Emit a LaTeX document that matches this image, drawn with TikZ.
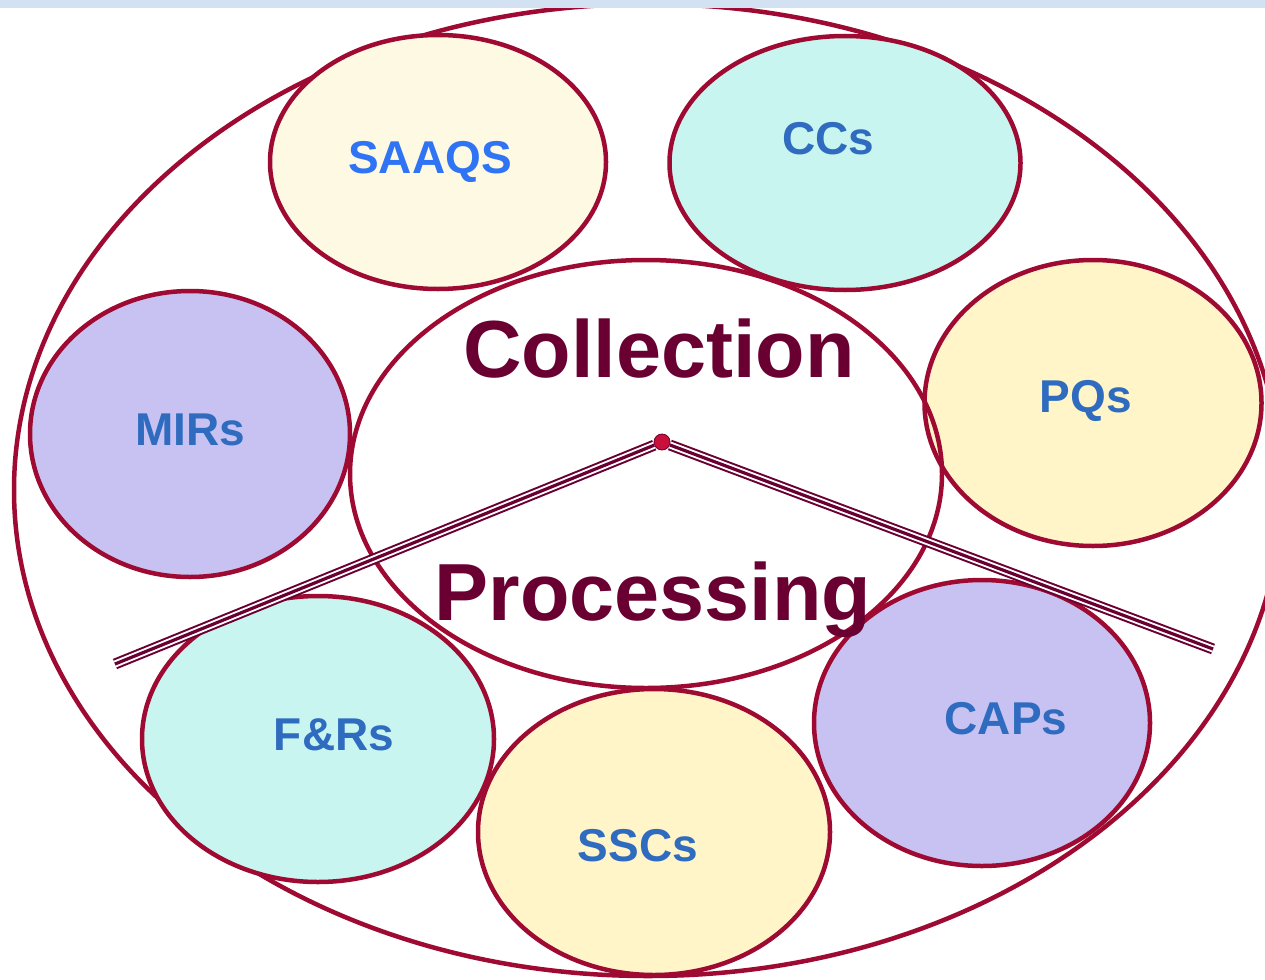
\documentclass[tikz,border=0pt]{standalone}
\usepackage{fontspec}
\setmainfont{Liberation Sans}
\usetikzlibrary{shapes.geometric}
\definecolor{outl}{HTML}{9E0A32}
\definecolor{roofc}{HTML}{6A0032}
\definecolor{titlec}{HTML}{6A0032}
\definecolor{bar}{HTML}{D3E2F3}
\definecolor{cream}{HTML}{FEF9E3}
\definecolor{cyanf}{HTML}{C9F5F0}
\definecolor{lav}{HTML}{C8C2F2}
\definecolor{yel}{HTML}{FFF5C8}
\definecolor{labc}{HTML}{2F6CC0}
\definecolor{brightb}{HTML}{2F74F5}
\definecolor{dotc}{HTML}{C8103A}
\tikzset{
  bubble/.style={ellipse, draw=outl, line width=4.5pt, inner sep=0pt},
  lab/.style={anchor=base, text=labc, font=\fontsize{46}{50}\selectfont\bfseries},
  ttl/.style={anchor=base, text=titlec, font=\fontsize{81}{90}\selectfont\bfseries},
  roof/.style={draw=roofc, line width=11pt, postaction={draw=white, line width=7pt}, postaction={draw=roofc, line width=3.2pt}}
}
\begin{document}
\begin{tikzpicture}[x=1pt,y=-1pt]
\useasboundingbox (0,0) rectangle (1265,979);
\clip (0,0) rectangle (1265,979);
\fill[white] (0,0) rectangle (1265,979);
\node[bubble, minimum width=1268pt, minimum height=972pt] (outer) at (648,490) {};
\fill[bar] (0,0) rectangle (1265,8);
% small ellipses
\node[bubble, fill=cream, minimum width=336pt, minimum height=254pt] (saaqs) at (438,162) {};
\node[bubble, fill=cyanf, minimum width=351pt, minimum height=254pt] (ccs) at (845,163) {};
\node[bubble, fill=lav, minimum width=320pt, minimum height=286pt] (mirs) at (190,434) {};
\node[bubble, fill=yel, minimum width=337pt, minimum height=286pt] (pqs) at (1093,403) {};
\node[bubble, fill=cyanf, minimum width=352pt, minimum height=286pt] (frs) at (318,739) {};
\node[bubble, fill=yel, minimum width=352pt, minimum height=286pt] (sscs) at (654,832) {};
\node[bubble, fill=lav, minimum width=336pt, minimum height=286pt] (caps) at (982,723) {};
% central ellipse
\node[bubble, minimum width=592pt, minimum height=428pt] (center) at (646,474) {};
% roof
\node[circle, fill=dotc, draw=roofc, line width=0.8pt, minimum size=16pt, inner sep=0pt] (apex) at (662,442) {};
\coordinate (lend) at (115,664);
\coordinate (rend) at (1213,649);
\draw[roof] (apex) -- (lend);
\draw[roof] (apex) -- (rend);
% labels
\node[lab, text=brightb] (tsaaqs) at (430,173) {SAAQS};
\node[lab] (tccs) at (828,154) {CCs};
\node[lab] (tmirs) at (190,445) {MIRs};
\node[lab] (tpqs) at (1086,412) {PQs};
\node[lab] (tfrs) at (334,750) {F\&Rs};
\node[lab] (tsscs) at (638,861) {SSCs};
\node[lab] (tcaps) at (1006,734) {CAPs};
\node[ttl] (tcoll) at (659,377) {Collection};
\node[ttl] (tproc) at (653,620) {Processing};
\end{tikzpicture}
\end{document}
